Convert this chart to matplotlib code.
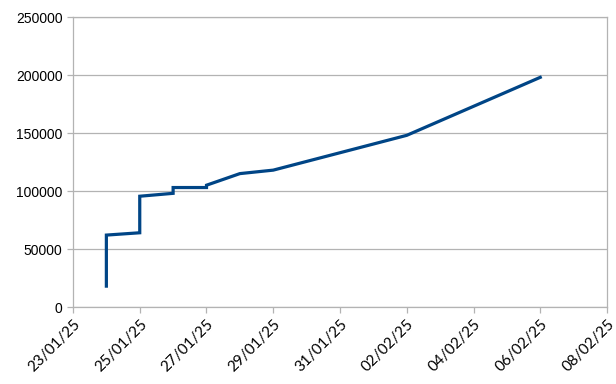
import matplotlib
matplotlib.use("Agg")
import matplotlib.pyplot as plt
import matplotlib.dates as mdates
from datetime import datetime

dates = ["2025-01-24", "2025-01-24", "2025-01-25", "2025-01-25", "2025-01-26",
         "2025-01-26", "2025-01-27", "2025-01-27", "2025-01-28", "2025-01-29",
         "2025-02-02", "2025-02-06"]
values = [18000, 62000, 64000, 95500, 98000, 103000, 103000, 105000,
          115000, 118000, 148000, 198000]
yticks = [0, 50000, 100000, 150000, 200000, 250000]
xtick_dates = ["2025-01-23", "2025-01-25", "2025-01-27", "2025-01-29", "2025-01-31",
               "2025-02-02", "2025-02-04", "2025-02-06", "2025-02-08"]

x = [datetime.strptime(d, "%Y-%m-%d") for d in dates]
xt = [datetime.strptime(d, "%Y-%m-%d") for d in xtick_dates]

plt.rcParams['font.family'] = ['Liberation Sans', 'DejaVu Sans']
fig = plt.figure(figsize=(6.16, 3.84), dpi=100)
ax = fig.add_axes([0.1185, 0.2005, 0.9854 - 0.1185, 0.9557 - 0.2005])

ax.plot(x, values, color="#004586", linewidth=2.3, solid_joinstyle="miter")

ax.set_ylim(0, 250000)
ax.set_yticks(yticks)
ax.set_yticklabels([str(v) for v in yticks])
ax.set_xlim(xt[0], xt[-1])
ax.set_xticks(xt)
ax.set_xticklabels([d.strftime("%d/%m/%y") for d in xt], family=['Lato', 'DejaVu Sans'],
                   fontsize=11, rotation=45, ha="right", rotation_mode="anchor")

ax.grid(axis="y", color="#b3b3b3", linewidth=0.9)
ax.set_axisbelow(True)
for s in ax.spines.values():
    s.set_color("#b3b3b3")
    s.set_linewidth(0.9)
ax.tick_params(axis="both", colors="#b3b3b3", labelcolor="black", length=4, width=0.9)
ax.tick_params(axis="y", labelsize=10)
ax.tick_params(axis="x", pad=3)

fig.savefig("out.png", dpi=100)
